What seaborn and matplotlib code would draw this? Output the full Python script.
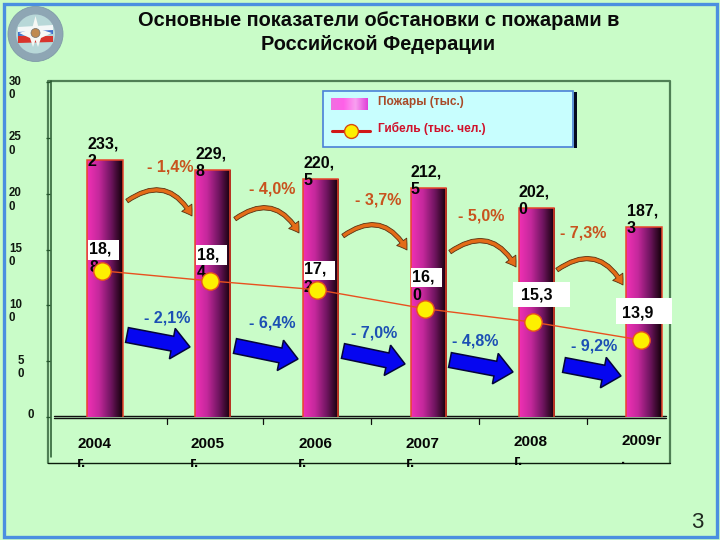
import numpy as np
import matplotlib
matplotlib.use("Agg")
import matplotlib.pyplot as plt
import seaborn as sns
from matplotlib.colors import LinearSegmentedColormap
from matplotlib.patches import Rectangle, Circle, Polygon, FancyArrowPatch
from matplotlib.transforms import ScaledTranslation

years = ["2004\nг.", "2005\nг.", "2006\nг.", "2007\nг.", "2008\nг.", "2009г\n."]
bar_heights = [230, 221, 213, 205, 187, 170]
bar_labels = ["233,\n2", "229,\n8", "220,\n5", "212,\n5", "202,\n0", "187,\n3"]
line_levels = [131, 122, 114, 97, 85, 69]
line_labels = ["18,\n8", "18,\n4", "17,\n2", "16,\n0", "15,3", "13,9"]
fire_changes = ["- 1,4%", "- 4,0%", "- 3,7%", "- 5,0%", "- 7,3%"]
death_changes = ["- 2,1%", "- 6,4%", "- 7,0%", "- 4,8%", "- 9,2%"]
y_ticks = [0, 50, 100, 150, 200, 250, 300]
y_labels = ["0", "5\n0", "10\n0", "15\n0", "20\n0", "25\n0", "30\n0"]

BG = "#c9fcc8"
FONT = "Liberation Sans"
sns.set_style("white")
plt.rcParams["font.family"] = [FONT, "DejaVu Sans"]
W, H = 720, 540
fig = plt.figure(figsize=(7.2, 5.4), dpi=100, facecolor=BG)

def make_px_axes(z):
    a = fig.add_axes([0, 0, 1, 1], zorder=z)
    a.set_xlim(0, W); a.set_ylim(H, 0); a.axis("off"); a.patch.set_alpha(0)
    return a

bg = make_px_axes(0)
top = make_px_axes(3)
L, R, T, B = 50, 666, 81, 417
main = fig.add_axes([L / W, 1 - B / H, (R - L) / W, (B - T) / H], zorder=1)
main.patch.set_alpha(0)

# slide frame
bg.add_patch(Rectangle((3.5, 3.5), 713, 533, fill=False, ec="#4a8fe0", lw=2.4))
# plot frame
bg.plot([48, 48, 670, 670], [463, 81, 81, 463], color="#4f7f55", lw=1.6)
bg.plot([48, 670], [463, 463], color="#0c1c0c", lw=1.0)
bg.plot([50.5, 50.5], [81, 457], color="#24552c", lw=1.1)
bg.plot([54, 666], [415.6, 415.6], color="#101010", lw=1.0)
bg.plot([54, 666], [418.4, 418.4], color="#101010", lw=1.0)
for xp in [167, 263, 371, 479, 587]:
    bg.plot([xp, xp], [418, 424], color="#101010", lw=0.9)

# title and page number
top.text(379, 21, "Основные показатели обстановки с пожарами в", ha="center", va="center",
         fontsize=14.4, fontweight="bold", color="#0a0a0a")
top.text(378, 44, "Российской Федерации", ha="center", va="center",
         fontsize=14.4, fontweight="bold", color="#0a0a0a")
top.text(697, 522, "3", ha="center", va="center", fontsize=16, color="#202a20")

# logo
bg.add_patch(Circle((35.5, 34), 27.5, fc="#8ea6b4", ec="#7f9aa8", lw=0.6))
bg.add_patch(Circle((35.5, 34), 19.5, fc="#b8d8d8", ec="none"))
bg.add_patch(Polygon([[18, 30], [53, 28], [53, 34], [18, 36]], fc="#3f6fc8", ec="none"))
bg.add_patch(Polygon([[18, 27], [53, 25], [53, 30], [18, 32]], fc="#f4f8f8", ec="none"))
bg.add_patch(Polygon([[18, 36], [53, 36], [53, 42], [18, 43]], fc="#d8342c", ec="none"))
bg.add_patch(Polygon([[35.5, 16], [39, 29], [52, 33], [41, 38], [38, 47], [35.5, 40], [33, 47], [30, 38],
                      [19, 33], [32, 29]], fc="#f6f8f4", ec="none"))
bg.add_patch(Circle((35.5, 33), 4.5, fc="#c08a50", ec="#707070", lw=0.5))

# bars
sns.barplot(x=np.arange(6), y=bar_heights, ax=main, width=0.325, color="#c02a9a",
            edgecolor="none", linewidth=0, native_scale=True, zorder=2)
cmap = LinearSegmentedColormap.from_list("bar", ["#f030b4", "#c4289c", "#701560", "#120008"])
gradient = np.linspace(0, 1, 64).reshape(1, -1)
for p in list(main.patches):
    x0, y0, w, h = p.get_x(), p.get_y(), p.get_width(), p.get_height()
    main.imshow(gradient, extent=(x0, x0 + w, y0, y0 + h), aspect="auto", cmap=cmap, zorder=2.1)
    main.plot([x0, x0, x0 + w, x0 + w], [0, h, h, 0], color="#e8452c", lw=1.1, zorder=2.2,
              solid_joinstyle="miter")
main.set_xlim((L - 105) / 107.8, (R - 105) / 107.8)
main.set_ylim(0, (B - T) / 1.116)

# death line
sns.lineplot(x=np.arange(6) - 0.03, y=line_levels, ax=main, color="#e8501e", lw=1.0, zorder=5,
             marker="o", markersize=12.5, markerfacecolor="#fdf000", markeredgecolor="#e8501e",
             markeredgewidth=1.0, sort=False, errorbar=None)

# value labels above bars
lbl = dict(fontsize=11.5, fontweight="bold", color="#050505", linespacing=1.22, ha="left", va="bottom",
           zorder=6, annotation_clip=False)
for i, (h, s) in enumerate(zip(bar_heights, bar_labels)):
    main.annotate(s, (i, h), xytext=(-17.5 * 0.72, -6.5), textcoords="offset points", **lbl)

# white value boxes
box_rects = [(88, 240, 31, 20), (196, 245, 31, 20), (304, 261, 31, 19), (411, 268, 31, 19),
             (513, 282, 57, 25), (616, 298, 56, 26)]
for (bx, by, bw, bh) in box_rects:
    main.add_patch(Rectangle((bx, by), bw, bh, transform=bg.transData, fc="white", ec="none",
                             zorder=3, clip_on=False))
text_pos = [(89, 242), (197, 247), (304, 262), (412, 270), (521, 288), (622, 305)]
for (tx, ty), s in zip(text_pos, line_labels):
    main.text(tx, ty, s, transform=bg.transData, fontsize=11.5, fontweight="bold", color="#050505",
              linespacing=1.22, ha="left", va="top", zorder=4, clip_on=False)

# y axis
main.set_yticks(y_ticks)
main.set_yticklabels(y_labels, fontsize=8.3, fontweight="bold", color="#101810", multialignment="left",
                     linespacing=1.15)
main.tick_params(axis="y", left=True, length=3, width=0.9, color="#24552c")
y_pads = [12, 22, 24, 24, 24, 24, 24]
y_drop = [0, 4, 4, 4, 4, 4, 4]
for tick, pad in zip(main.yaxis.get_major_ticks(), y_pads):
    tick.set_pad(pad * 0.72)
for t, dy in zip(main.get_yticklabels(), y_drop):
    t.set_transform(t.get_transform() + ScaledTranslation(0, (-dy + (4 if dy == 0 else 0)) / 100, fig.dpi_scale_trans))

# x axis
main.set_xticks(np.arange(6))
main.set_xticklabels(years, fontsize=11, fontweight="bold", color="#050505", ha="left", linespacing=1.45)
main.tick_params(axis="x", bottom=False, length=0, pad=20 * 0.72)
x_shift = [-28, -22.5, -22.5, -23, -22.5, -22.5]
y_shift = [0, 0, 0, 0, 2, 3]
for t, dx, dy in zip(main.get_xticklabels(), x_shift, y_shift):
    t.set_transform(t.get_transform() + ScaledTranslation(dx / 100, dy / 100, fig.dpi_scale_trans))
sns.despine(ax=main, left=True, bottom=True, top=True, right=True)
main.grid(False)

# change percentages
fire_xy = [(170, 167), (272, 189), (378, 200), (481, 216), (583, 233)]
death_xy = [(167, 318), (272, 323), (374, 333), (475, 341), (594, 346)]
for (x, y), s in zip(fire_xy, fire_changes):
    top.text(x, y, s, ha="center", va="center", fontsize=11.5, fontweight="bold", color="#c8531e")
for (x, y), s in zip(death_xy, death_changes):
    top.text(x, y, s, ha="center", va="center", fontsize=11.5, fontweight="bold", color="#1c50b4")

# curved orange arrows
curves = [((127, 201), (192, 216)), ((235, 219), (299, 233)), ((343, 236), (407, 250)),
          ((450, 252), (516, 267)), ((557, 270), (623, 285))]
for a, b in curves:
    top.add_patch(FancyArrowPatch(a, b, connectionstyle="arc3,rad=-0.55",
                                  arrowstyle="simple,head_length=7,head_width=9,tail_width=3",
                                  fc="#e46c18", ec="#5a3010", lw=0.6, shrinkA=0, shrinkB=0))

# blue block arrows
def block_arrow(ax, p0, p1, shaft=7.5, head=15.5, head_len=18):
    p0, p1 = np.array(p0, float), np.array(p1, float)
    d = p1 - p0; n = np.linalg.norm(d); u = d / n; v = np.array([-u[1], u[0]])
    m = p1 - u * head_len
    pts = [p0 + v * shaft, m + v * shaft, m + v * head, p1, m - v * head, m - v * shaft, p0 - v * shaft]
    ax.add_patch(Polygon(pts, closed=True, fc="#0606f0", ec="#04043a", lw=1.1))

blocks = [((127, 335), (190, 347)), ((235, 346), (298, 359)), ((343, 351), (405, 364)),
          ((450, 360), (513, 372)), ((564, 365), (621, 376))]
for a, b in blocks:
    block_arrow(top, a, b)

# legend panel
top.add_patch(Rectangle((574, 92), 2.6, 56, fc="#050a20", ec="none"))
top.add_patch(Rectangle((322.5, 90.5), 250.5, 56, fc="#c8fefe", ec="#4a80d8", lw=1.2))
swatch = LinearSegmentedColormap.from_list("sw", ["#f070e0", "#ff60e8", "#f8a0f0", "#e040d8"])
top.imshow(gradient, extent=(331, 368, 110, 98.5), aspect="auto", cmap=swatch, zorder=3)
top.set_xlim(0, W); top.set_ylim(H, 0)
top.plot([332, 370], [131, 131], color="#d01818", lw=2.2, zorder=3)
top.plot([351], [131], "o", ms=10, mfc="#fdf000", mec="#d84a10", mew=1.0, zorder=4)
top.text(377.5, 102, "Пожары (тыс.)", ha="left", va="center", fontsize=8.6, fontweight="bold", color="#a84a28")
top.text(377.5, 128, "Гибель (тыс. чел.)", ha="left", va="center", fontsize=8.6, fontweight="bold", color="#d0102a")

fig.savefig("out.png", dpi=100, facecolor=BG)
